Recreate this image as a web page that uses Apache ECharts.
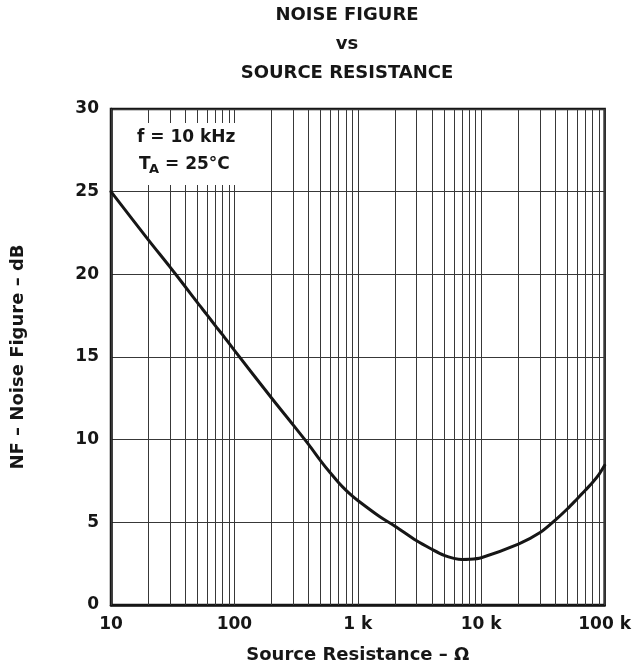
<!DOCTYPE html>
<html>
<head>
<meta charset="utf-8">
<script src="https://cdn.jsdelivr.net/npm/echarts@6/dist/echarts.min.js"></script>
<style>
html,body{margin:0;padding:0;background:#fff;}
#chart{width:634px;height:669px;}
</style>
</head>
<body>
<div id="chart"></div>
<script>
// Source resistance (ohms) and noise figure (dB)
const resistance = [10,20,30,40,50,60,70,80,100,200,300,400,500,600,700,800,900,1000,1500,2000,3000,4000,5000,6000,7000,8000,10000,20000,30000,40000,50000,60000,70000,80000,90000,100000];
const noiseFigure = [25.0,22.1,20.45,19.25,18.3,17.55,16.9,16.35,15.4,12.52,10.88,9.7,8.72,7.98,7.4,6.95,6.6,6.32,5.35,4.77,3.88,3.36,3.0,2.82,2.75,2.76,2.86,3.68,4.38,5.15,5.82,6.43,6.95,7.42,7.9,8.45];
// vertical grid lines (log decades and their subdivisions)
const xGridValues = [10,20,30,40,50,60,70,80,90,100,200,300,400,500,600,700,800,900,1000,2000,3000,4000,5000,6000,7000,8000,9000,10000,20000,30000,40000,50000,60000,70000,80000,90000,100000];
const xTickValues = [10,100,1000,10000,100000];
const xTickLabels = ['10','100','1 k','10 k','100 k'];
const yTicks = [0,5,10,15,20,25,30];

const FONT = '"DejaVu Sans", "Liberation Sans", Arial, sans-serif';
const INK = '#161616';
const chart = echarts.init(document.getElementById('chart'), null, {renderer:'canvas'});

const option = {
  animation: false,
  backgroundColor: '#fff',
  title: {
    text: 'NOISE FIGURE\nvs\nSOURCE RESISTANCE',
    left: 347, top: 1, textAlign: 'center', padding: 0,
    textStyle: {fontFamily: FONT, fontWeight: 'bold', fontSize: 18, lineHeight: 29, color: INK}
  },
  grid: {left: 111, top: 109, right: 21, bottom: 57, show: true, borderColor: INK, borderWidth: 2.5, backgroundColor: 'transparent'},
  xAxis: {
    type: 'log', logBase: 10, min: xTickValues[0], max: xTickValues[xTickValues.length-1],
    name: 'Source Resistance – Ω', nameLocation: 'middle', nameGap: 41,
    nameTextStyle: {fontFamily: FONT, fontWeight: 'bold', fontSize: 18, color: INK},
    axisLine: {show: true, lineStyle: {color: INK, width: 2.5}},
    axisTick: {show: false},
    splitLine: {show: false},
    axisLabel: {
      margin: 11, fontFamily: FONT, fontWeight: 'bold', fontSize: 17, color: INK,
      formatter: function (v) { const i = xTickValues.indexOf(Math.round(v)); return i >= 0 ? xTickLabels[i] : ''; }
    }
  },
  yAxis: {
    type: 'value', min: yTicks[0], max: yTicks[yTicks.length-1], interval: 5,
    name: 'NF – Noise Figure – dB', nameLocation: 'middle', nameGap: 84,
    nameTextStyle: {fontFamily: FONT, fontWeight: 'bold', fontSize: 18, color: INK},
    axisLine: {show: true, lineStyle: {color: INK, width: 2.5}},
    axisTick: {show: false},
    splitLine: {show: true, lineStyle: {color: '#383838', width: 1}},
    axisLabel: {margin: 12, fontFamily: FONT, fontWeight: 'bold', fontSize: 17, color: INK}
  },
  series: [{
    type: 'line',
    data: resistance.map((r, i) => [r, noiseFigure[i]]),
    showSymbol: false,
    smooth: 0.3,
    lineStyle: {color: INK, width: 3, join: 'round', cap: 'round'},
    z: 5,
    markLine: {
      silent: true, symbol: 'none', label: {show: false}, animation: false,
      lineStyle: {color: '#383838', width: 1, type: 'solid'},
      data: xGridValues.map(v => ({xAxis: v}))
    }
  }],
  graphic: [
    {type: 'rect', z: 100, shape: {x: 113, y: 123, width: 132, height: 62}, style: {fill: '#fff'}},
    {type: 'text', z: 101, x: 137, y: 138, style: {text: 'f = 10 kHz', font: 'bold 17px ' + FONT, fill: INK, align: 'left', verticalAlign: 'middle'}},
    {type: 'text', z: 101, x: 139, y: 165, style: {text: 'T', font: 'bold 17px ' + FONT, fill: INK, align: 'left', verticalAlign: 'middle'}},
    {type: 'text', z: 101, x: 149, y: 170, style: {text: 'A', font: 'bold 13px ' + FONT, fill: INK, align: 'left', verticalAlign: 'middle'}},
    {type: 'text', z: 101, x: 165, y: 165, style: {text: '= 25°C', font: 'bold 17px ' + FONT, fill: INK, align: 'left', verticalAlign: 'middle'}}
  ]
};
chart.setOption(option);
</script>
</body>
</html>
